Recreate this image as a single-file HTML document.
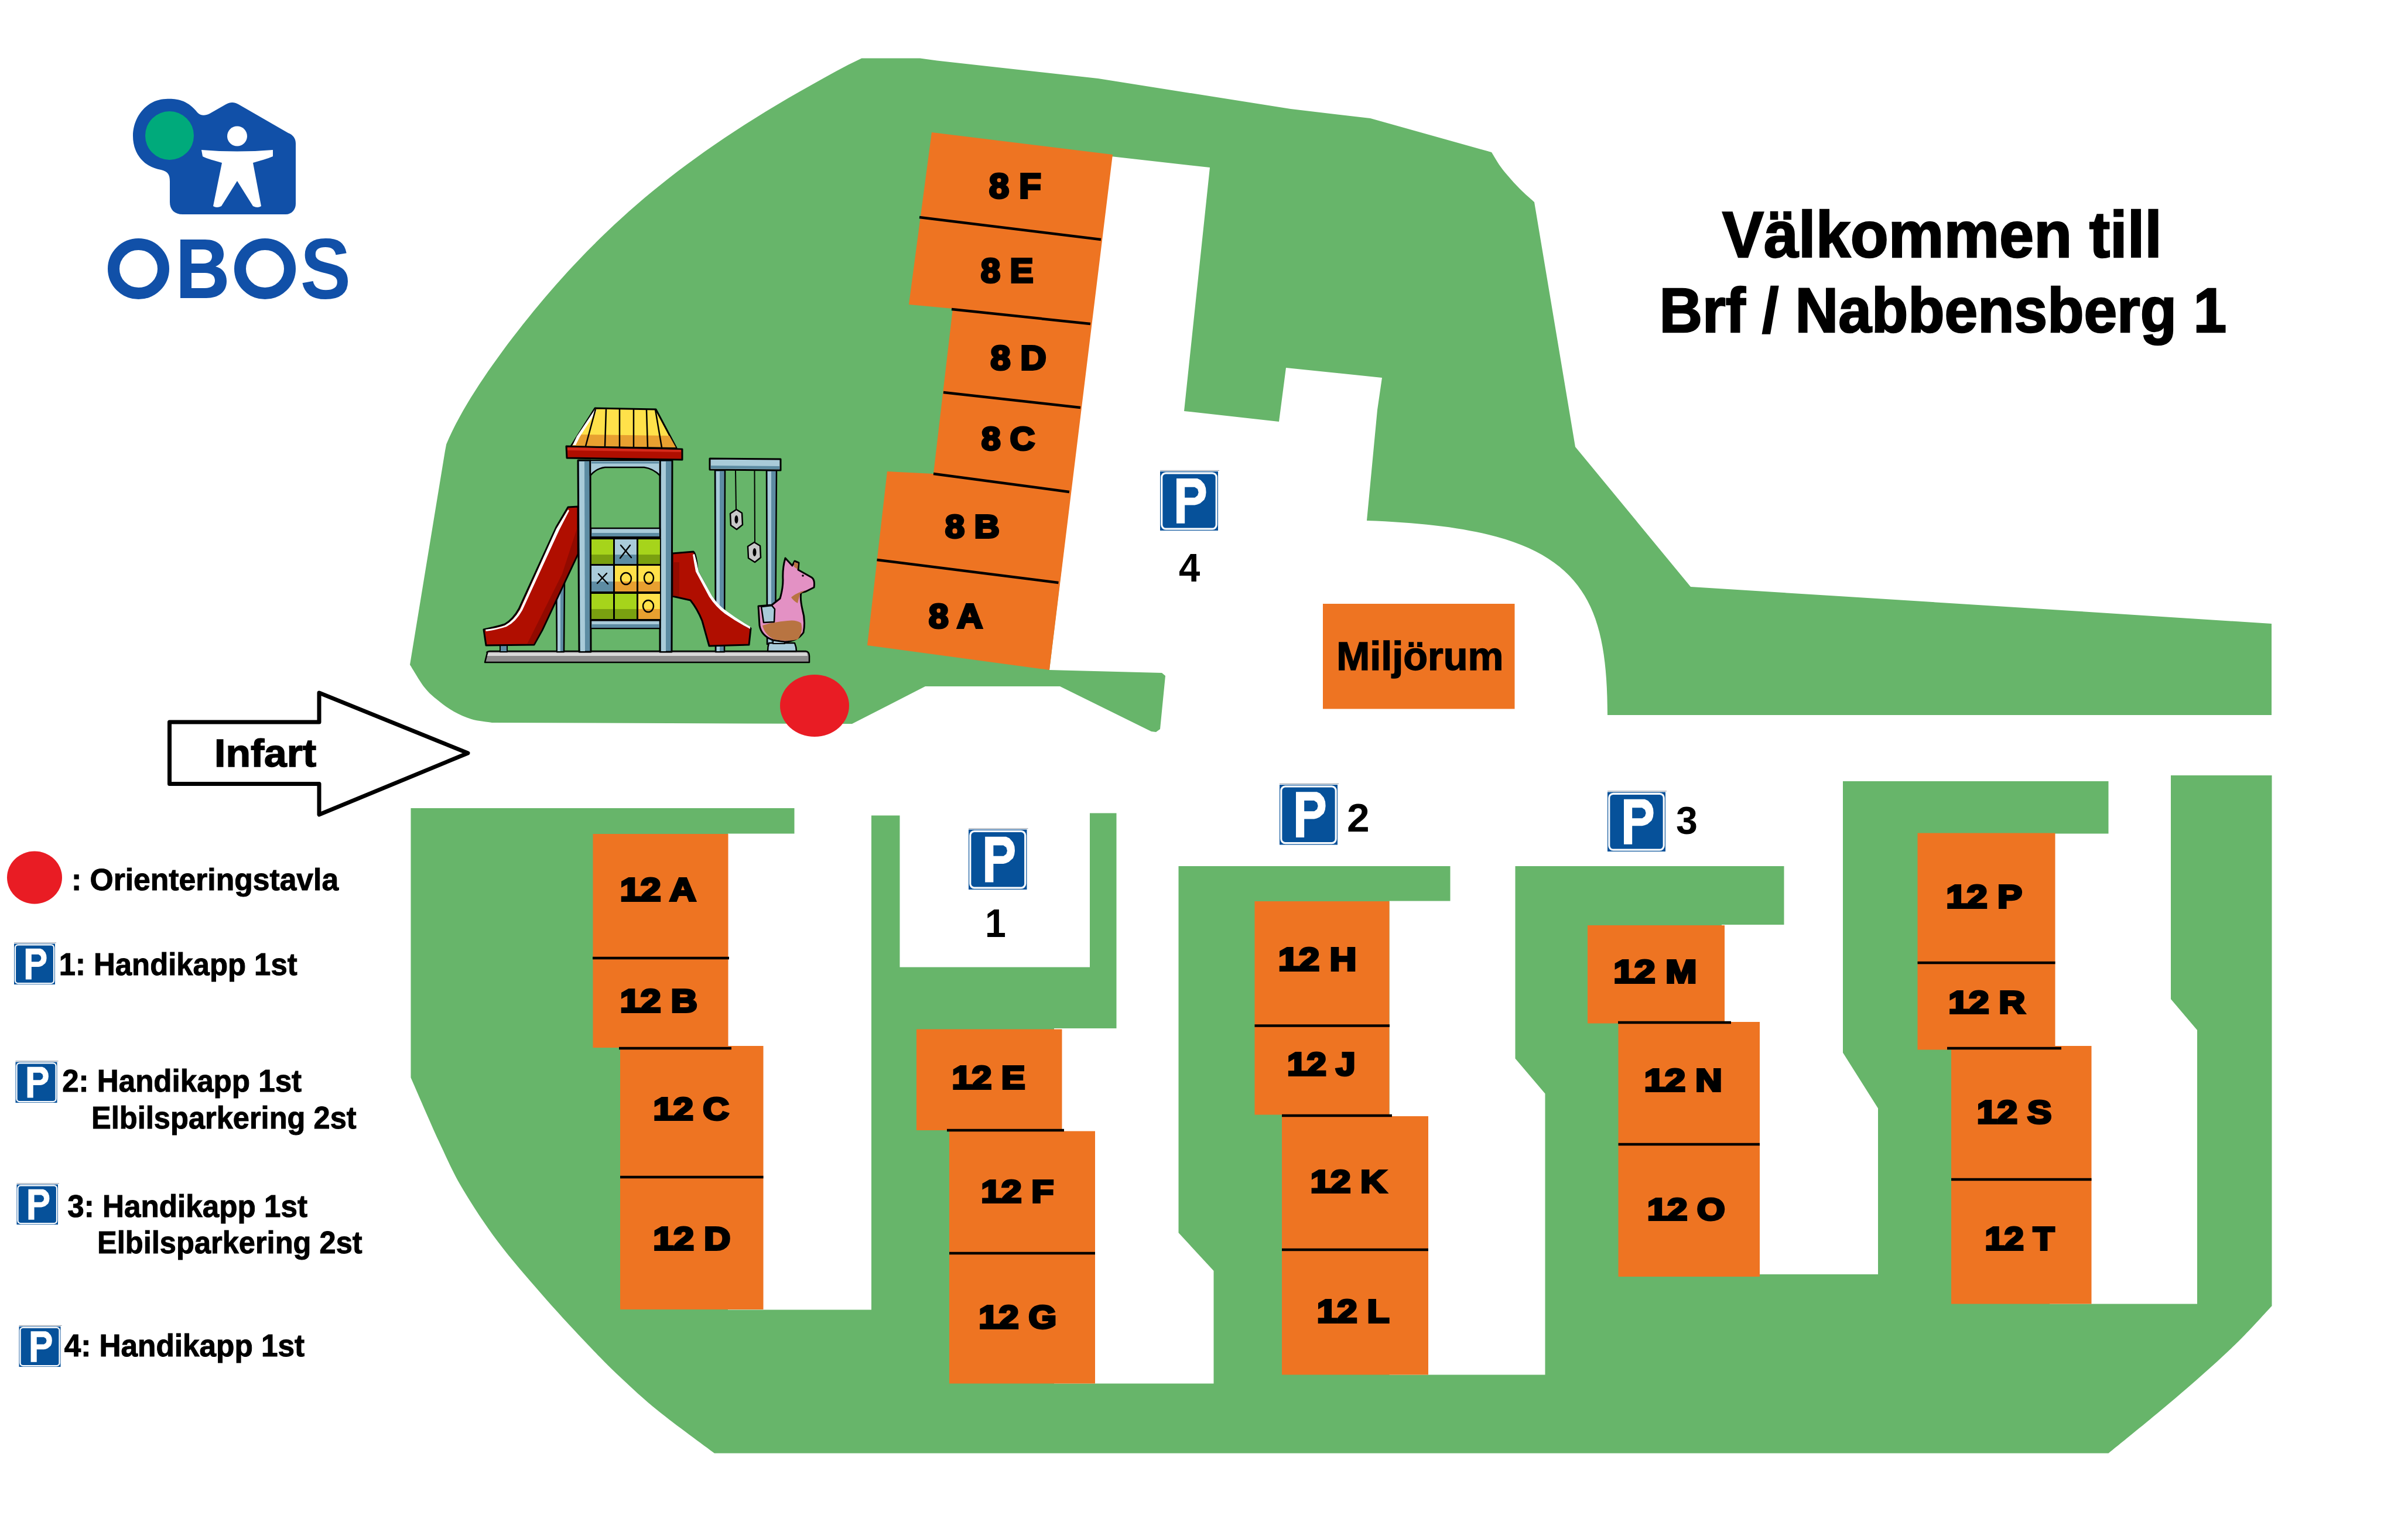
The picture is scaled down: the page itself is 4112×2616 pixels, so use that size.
<!DOCTYPE html>
<html><head><meta charset="utf-8"><style>
html,body{margin:0;padding:0;background:#fff;width:4112px;height:2616px;overflow:hidden;}
svg{display:block;}
text{font-family:"Liberation Sans",sans-serif;font-weight:bold;}
</style></head><body>
<svg width="4112" height="2616" viewBox="0 0 4112 2616">
<rect width="4112" height="2616" fill="#fff"/>
<path d="M760.0,770.0 L762.2,758.6 L767.1,747.3 L772.4,735.9 L778.1,724.5 L784.2,713.2 L790.5,701.8 L797.1,690.4 L804.0,679.1 L811.2,667.7 L818.5,656.3 L826.1,645.0 L833.8,633.6 L841.8,622.2 L849.9,610.9 L858.2,599.5 L866.6,588.1 L875.2,576.8 L884.0,565.4 L892.9,554.0 L902.0,542.7 L911.2,531.3 L920.6,519.9 L930.2,508.6 L939.9,497.2 L949.9,485.8 L960.0,474.5 L970.3,463.1 L980.9,451.7 L991.6,440.4 L1002.6,429.0 L1013.9,417.7 L1025.4,406.3 L1037.1,394.9 L1049.2,383.6 L1061.6,372.2 L1074.2,360.8 L1087.2,349.5 L1100.5,338.1 L1114.1,326.7 L1128.1,315.4 L1142.5,304.0 L1157.3,292.6 L1172.4,281.3 L1187.9,269.9 L1203.8,258.5 L1220.1,247.2 L1236.9,235.8 L1254.0,224.4 L1271.6,213.1 L1289.6,201.7 L1308.0,190.3 L1326.8,179.0 L1346.1,167.6 L1365.8,156.2 L1385.8,144.9 L1406.3,133.5 L1427.1,122.1 L1448.3,110.8 L1471.4,99.4 L1571,99.4 L1600,103.6 L1875,134 L2204,186 L2340,202 L2547,260 C2549.5,264.0 2556.5,276.3 2562.0,284.0 C2567.5,291.7 2573.7,298.8 2580.0,306.0 C2586.3,313.2 2593.3,320.5 2600.0,327.0 C2606.7,333.5 2616.7,342.0 2620.0,345.0 L2690,763 L2887,1002 L3553,1044 L3879,1065 L3879,1221 L2745,1221 L2745,1221 C2744.7,993.7 2684.5,901.2 2334,889 L2352,700 L2360,645 L2196,628 L2184,720 L2022,702 L2066,286 L1897,267 L1792,1144 L1984,1149 L1990,1154 L1981,1245 L1974,1250 L1966,1249 L1810,1172 L1580,1172 L1455,1236 L840,1234 C834.2,1233.0 815.8,1231.2 805.0,1228.0 C794.2,1224.8 784.5,1220.3 775.0,1215.0 C765.5,1209.7 756.3,1202.8 748.0,1196.0 C739.7,1189.2 733.0,1184.2 725.0,1174.0 C717.0,1163.8 704.2,1141.5 700.0,1135.0 Z" fill="#67b56a"/>
<path d="M701.5,1380 L1420,1380 L1420,1392.5 L1600,1392.5 L1600,1388.5 L1950,1388.5 L1950,1479 L3147,1479 L3147,1334 L3700,1334 L3700,1324 L3879.5,1324 L3879.5,2230 C3870.1,2240.0 3843.2,2270.0 3823.0,2290.0 C3802.8,2310.0 3780.5,2330.0 3758.0,2350.0 C3735.5,2370.0 3714.2,2388.1 3688.0,2410.0 C3661.8,2431.9 3615.1,2469.6 3600.5,2481.5 L1220,2481.5 C1204.2,2469.6 1152.1,2431.9 1125.0,2410.0 C1097.9,2388.1 1078.3,2369.7 1057.5,2350.0 C1036.7,2330.3 1022.1,2315.3 1000.0,2292.0 C977.9,2268.7 950.0,2238.7 925.0,2210.0 C900.0,2181.3 872.5,2150.0 850.0,2120.0 C827.5,2090.0 806.7,2058.3 790.0,2030.0 C773.3,2001.7 764.8,1981.7 750.0,1950.0 C735.2,1918.3 709.6,1858.3 701.5,1840.0 Z" fill="#67b56a"/>
<polygon points="1356.5,1375 1488,1375 1488,2236.5 1243,2236.5 1243,1423.5 1356.5,1423.5" fill="#ffffff" />
<polygon points="1536.5,1375 1861,1375 1861,1651.5 1536.5,1651.5" fill="#ffffff" />
<polygon points="1906.5,1375 2012.5,1375 2012.5,2105 2072.5,2170 2072.5,2362.5 1800,2362.5 1800,1756 1906.5,1756" fill="#ffffff" />
<polygon points="2476.5,1470 2587.5,1470 2587.5,1807.5 2638.5,1867.5 2638.5,2347.5 2372.5,2347.5 2372.5,1538.5 2476.5,1538.5" fill="#ffffff" />
<polygon points="3046.5,1470 3147,1470 3147,1797.5 3207,1892.5 3207,2176 2940,2176 2940,1579 3046.5,1579" fill="#ffffff" />
<polygon points="3600.5,1320 3707,1320 3707,1706 3752,1759 3752,2226.5 3500,2226.5 3500,1423.5 3600.5,1423.5" fill="#ffffff" />
<polygon points="1591,226 1900,264 1792,1144 1481,1102 1515,805 1594,809 1627,527 1552,520" fill="#ee7422" />
<rect x="1012.5" y="1424" width="231.0" height="365" fill="#ee7422"/>
<rect x="1059" y="1786" width="244.5" height="450" fill="#ee7422"/>
<rect x="1565" y="1757.5" width="248.5" height="172.5" fill="#ee7422"/>
<rect x="1621" y="1931.5" width="249" height="431.0" fill="#ee7422"/>
<rect x="2142.5" y="1539" width="230.0" height="364.5" fill="#ee7422"/>
<rect x="2189" y="1906" width="250" height="441.5" fill="#ee7422"/>
<rect x="2711" y="1580" width="234" height="167.5" fill="#ee7422"/>
<rect x="2763.5" y="1745" width="241.5" height="435" fill="#ee7422"/>
<rect x="3274.5" y="1422.5" width="235.0" height="370.0" fill="#ee7422"/>
<rect x="3332" y="1786" width="239.5" height="440.5" fill="#ee7422"/>
<rect x="2259" y="1031" width="327.5" height="179.5" fill="#ee7422"/>
<line x1="1570" y1="371" x2="1880" y2="409" stroke="#000" stroke-width="4.5"/>
<line x1="1625" y1="528" x2="1862" y2="553" stroke="#000" stroke-width="4.5"/>
<line x1="1611" y1="670" x2="1845" y2="696" stroke="#000" stroke-width="4.5"/>
<line x1="1594" y1="809" x2="1826" y2="840" stroke="#000" stroke-width="4.5"/>
<line x1="1497.5" y1="956" x2="1807.5" y2="995" stroke="#000" stroke-width="4.5"/>
<line x1="1012" y1="1636" x2="1245" y2="1636" stroke="#000" stroke-width="4.5"/>
<line x1="1057" y1="1790" x2="1249" y2="1790" stroke="#000" stroke-width="4.5"/>
<line x1="1059" y1="2010" x2="1303.5" y2="2010" stroke="#000" stroke-width="4.5"/>
<line x1="1617" y1="1930" x2="1817" y2="1930" stroke="#000" stroke-width="4.5"/>
<line x1="1621" y1="2140" x2="1870" y2="2140" stroke="#000" stroke-width="4.5"/>
<line x1="2142.5" y1="1751.5" x2="2373" y2="1751.5" stroke="#000" stroke-width="4.5"/>
<line x1="2189" y1="1905" x2="2377" y2="1905" stroke="#000" stroke-width="4.5"/>
<line x1="2189" y1="2134" x2="2439" y2="2134" stroke="#000" stroke-width="4.5"/>
<line x1="2763" y1="1746" x2="2956" y2="1746" stroke="#000" stroke-width="4.5"/>
<line x1="2763.5" y1="1954" x2="3005" y2="1954" stroke="#000" stroke-width="4.5"/>
<line x1="3274.5" y1="1644" x2="3509.5" y2="1644" stroke="#000" stroke-width="4.5"/>
<line x1="3325" y1="1790" x2="3520" y2="1790" stroke="#000" stroke-width="4.5"/>
<line x1="3332" y1="2014" x2="3571.5" y2="2014" stroke="#000" stroke-width="4.5"/>
<text x="1689.1" y="338.00" font-size="59.59" textLength="88.7" lengthAdjust="spacingAndGlyphs" fill="#000" stroke="#000" stroke-width="4" stroke-linejoin="miter" >8 F</text>
<text x="1675.1" y="482.00" font-size="56.69" textLength="89.2" lengthAdjust="spacingAndGlyphs" fill="#000" stroke="#000" stroke-width="4" stroke-linejoin="miter" >8 E</text>
<text x="1691.6" y="630.50" font-size="57.41" textLength="95.0" lengthAdjust="spacingAndGlyphs" fill="#000" stroke="#000" stroke-width="4" stroke-linejoin="miter" >8 D</text>
<text x="1676.1" y="768.00" font-size="55.96" textLength="91.0" lengthAdjust="spacingAndGlyphs" fill="#000" stroke="#000" stroke-width="4" stroke-linejoin="miter" >8 C</text>
<text x="1614.1" y="918.00" font-size="55.96" textLength="92.6" lengthAdjust="spacingAndGlyphs" fill="#000" stroke="#000" stroke-width="4" stroke-linejoin="miter" >8 B</text>
<text x="1586.1" y="1072.00" font-size="56.69" textLength="91.9" lengthAdjust="spacingAndGlyphs" fill="#000" stroke="#000" stroke-width="4" stroke-linejoin="miter" >8 A</text>
<text x="1059.1" y="1538.00" font-size="55.96" textLength="129.5" lengthAdjust="spacingAndGlyphs" fill="#000" stroke="#000" stroke-width="4" stroke-linejoin="miter" >12 A</text>
<text x="1059.1" y="1728.00" font-size="55.96" textLength="131.8" lengthAdjust="spacingAndGlyphs" fill="#000" stroke="#000" stroke-width="4" stroke-linejoin="miter" >12 B</text>
<text x="1115.7" y="1911.50" font-size="53.78" textLength="129.0" lengthAdjust="spacingAndGlyphs" fill="#000" stroke="#000" stroke-width="4" stroke-linejoin="miter" >12 C</text>
<text x="1115.6" y="2134.00" font-size="55.23" textLength="131.5" lengthAdjust="spacingAndGlyphs" fill="#000" stroke="#000" stroke-width="4" stroke-linejoin="miter" >12 D</text>
<text x="1625.7" y="1859.00" font-size="55.23" textLength="124.7" lengthAdjust="spacingAndGlyphs" fill="#000" stroke="#000" stroke-width="4" stroke-linejoin="miter" >12 E</text>
<text x="1675.6" y="2053.00" font-size="53.78" textLength="123.7" lengthAdjust="spacingAndGlyphs" fill="#000" stroke="#000" stroke-width="4" stroke-linejoin="miter" >12 F</text>
<text x="1671.6" y="2268.00" font-size="55.96" textLength="132.6" lengthAdjust="spacingAndGlyphs" fill="#000" stroke="#000" stroke-width="4" stroke-linejoin="miter" >12 G</text>
<text x="2183.0" y="1656.50" font-size="55.96" textLength="133.2" lengthAdjust="spacingAndGlyphs" fill="#000" stroke="#000" stroke-width="4" stroke-linejoin="miter" >12 H</text>
<text x="2198.2" y="1835.50" font-size="55.96" textLength="116.4" lengthAdjust="spacingAndGlyphs" fill="#000" stroke="#000" stroke-width="4" stroke-linejoin="miter" >12 J</text>
<text x="2238.1" y="2035.50" font-size="54.51" textLength="129.4" lengthAdjust="spacingAndGlyphs" fill="#000" stroke="#000" stroke-width="4" stroke-linejoin="miter" >12 K</text>
<text x="2249.1" y="2258.00" font-size="55.96" textLength="123.3" lengthAdjust="spacingAndGlyphs" fill="#000" stroke="#000" stroke-width="4" stroke-linejoin="miter" >12 L</text>
<text x="2755.5" y="1678.00" font-size="55.96" textLength="141.8" lengthAdjust="spacingAndGlyphs" fill="#000" stroke="#000" stroke-width="4" stroke-linejoin="miter" >12 M</text>
<text x="2808.0" y="1863.00" font-size="53.78" textLength="132.7" lengthAdjust="spacingAndGlyphs" fill="#000" stroke="#000" stroke-width="4" stroke-linejoin="miter" >12 N</text>
<text x="2813.2" y="2083.00" font-size="52.33" textLength="132.4" lengthAdjust="spacingAndGlyphs" fill="#000" stroke="#000" stroke-width="4" stroke-linejoin="miter" >12 O</text>
<text x="3323.5" y="1549.50" font-size="55.96" textLength="129.6" lengthAdjust="spacingAndGlyphs" fill="#000" stroke="#000" stroke-width="4" stroke-linejoin="miter" >12 P</text>
<text x="3327.6" y="1729.50" font-size="54.51" textLength="130.7" lengthAdjust="spacingAndGlyphs" fill="#000" stroke="#000" stroke-width="4" stroke-linejoin="miter" >12 R</text>
<text x="3376.1" y="1918.00" font-size="55.96" textLength="127.3" lengthAdjust="spacingAndGlyphs" fill="#000" stroke="#000" stroke-width="4" stroke-linejoin="miter" >12 S</text>
<text x="3389.8" y="2134.00" font-size="55.96" textLength="118.4" lengthAdjust="spacingAndGlyphs" fill="#000" stroke="#000" stroke-width="4" stroke-linejoin="miter" >12 T</text>
<text x="2282.2" y="1144.25" font-size="69.04" textLength="285.3" lengthAdjust="spacingAndGlyphs" fill="#000" stroke="#000" stroke-width="1.5" stroke-linejoin="miter" >Miljörum</text>
<g transform="translate(1981,805) scale(0.9900,1.0100)"><rect x="0" y="0" width="100" height="100" fill="#06519a"/><rect x="2.8" y="2.8" width="94.4" height="94.4" rx="7" fill="none" stroke="#fff" stroke-width="3.2"/><path d="M28.3 12 H64.3 L70 14.5 L76.2 21.3 L78.8 28 L79.4 35.3 L78.5 42 L76.2 47.7 L69.1 53.9 L64 56 L59.6 57 H42.6 V87.9 H28.3 Z M42.6 26.4 H59.6 L64.7 29.8 L66.3 35.3 L64.7 40.7 L60 44.2 H42.6 Z" fill="#fff" fill-rule="evenodd"/></g>
<line x1="1981" y1="803.4" x2="2082" y2="803.4" stroke="#8a93a0" stroke-width="1"/>
<g transform="translate(1654,1416.5) scale(0.9950,1.0250)"><rect x="0" y="0" width="100" height="100" fill="#06519a"/><rect x="2.8" y="2.8" width="94.4" height="94.4" rx="7" fill="none" stroke="#fff" stroke-width="3.2"/><path d="M28.3 12 H64.3 L70 14.5 L76.2 21.3 L78.8 28 L79.4 35.3 L78.5 42 L76.2 47.7 L69.1 53.9 L64 56 L59.6 57 H42.6 V87.9 H28.3 Z M42.6 26.4 H59.6 L64.7 29.8 L66.3 35.3 L64.7 40.7 L60 44.2 H42.6 Z" fill="#fff" fill-rule="evenodd"/></g>
<line x1="1654" y1="1414.9" x2="1755.5" y2="1414.9" stroke="#8a93a0" stroke-width="1"/>
<g transform="translate(2185,1340) scale(0.9900,1.0250)"><rect x="0" y="0" width="100" height="100" fill="#06519a"/><rect x="2.8" y="2.8" width="94.4" height="94.4" rx="7" fill="none" stroke="#fff" stroke-width="3.2"/><path d="M28.3 12 H64.3 L70 14.5 L76.2 21.3 L78.8 28 L79.4 35.3 L78.5 42 L76.2 47.7 L69.1 53.9 L64 56 L59.6 57 H42.6 V87.9 H28.3 Z M42.6 26.4 H59.6 L64.7 29.8 L66.3 35.3 L64.7 40.7 L60 44.2 H42.6 Z" fill="#fff" fill-rule="evenodd"/></g>
<line x1="2185" y1="1338.4" x2="2286" y2="1338.4" stroke="#8a93a0" stroke-width="1"/>
<g transform="translate(2745,1352.5) scale(0.9900,1.0150)"><rect x="0" y="0" width="100" height="100" fill="#06519a"/><rect x="2.8" y="2.8" width="94.4" height="94.4" rx="7" fill="none" stroke="#fff" stroke-width="3.2"/><path d="M28.3 12 H64.3 L70 14.5 L76.2 21.3 L78.8 28 L79.4 35.3 L78.5 42 L76.2 47.7 L69.1 53.9 L64 56 L59.6 57 H42.6 V87.9 H28.3 Z M42.6 26.4 H59.6 L64.7 29.8 L66.3 35.3 L64.7 40.7 L60 44.2 H42.6 Z" fill="#fff" fill-rule="evenodd"/></g>
<line x1="2745" y1="1350.9" x2="2846" y2="1350.9" stroke="#8a93a0" stroke-width="1"/>
<g transform="translate(24,1611.5) scale(0.7000,0.6950)"><rect x="0" y="0" width="100" height="100" fill="#06519a"/><rect x="2.8" y="2.8" width="94.4" height="94.4" rx="7" fill="none" stroke="#fff" stroke-width="3.2"/><path d="M28.3 12 H64.3 L70 14.5 L76.2 21.3 L78.8 28 L79.4 35.3 L78.5 42 L76.2 47.7 L69.1 53.9 L64 56 L59.6 57 H42.6 V87.9 H28.3 Z M42.6 26.4 H59.6 L64.7 29.8 L66.3 35.3 L64.7 40.7 L60 44.2 H42.6 Z" fill="#fff" fill-rule="evenodd"/></g>
<line x1="24" y1="1609.9" x2="96" y2="1609.9" stroke="#8a93a0" stroke-width="1"/>
<g transform="translate(26.5,1813.5) scale(0.7100,0.6950)"><rect x="0" y="0" width="100" height="100" fill="#06519a"/><rect x="2.8" y="2.8" width="94.4" height="94.4" rx="7" fill="none" stroke="#fff" stroke-width="3.2"/><path d="M28.3 12 H64.3 L70 14.5 L76.2 21.3 L78.8 28 L79.4 35.3 L78.5 42 L76.2 47.7 L69.1 53.9 L64 56 L59.6 57 H42.6 V87.9 H28.3 Z M42.6 26.4 H59.6 L64.7 29.8 L66.3 35.3 L64.7 40.7 L60 44.2 H42.6 Z" fill="#fff" fill-rule="evenodd"/></g>
<line x1="26.5" y1="1811.9" x2="99.5" y2="1811.9" stroke="#8a93a0" stroke-width="1"/>
<g transform="translate(28.5,2022.5) scale(0.7050,0.6850)"><rect x="0" y="0" width="100" height="100" fill="#06519a"/><rect x="2.8" y="2.8" width="94.4" height="94.4" rx="7" fill="none" stroke="#fff" stroke-width="3.2"/><path d="M28.3 12 H64.3 L70 14.5 L76.2 21.3 L78.8 28 L79.4 35.3 L78.5 42 L76.2 47.7 L69.1 53.9 L64 56 L59.6 57 H42.6 V87.9 H28.3 Z M42.6 26.4 H59.6 L64.7 29.8 L66.3 35.3 L64.7 40.7 L60 44.2 H42.6 Z" fill="#fff" fill-rule="evenodd"/></g>
<line x1="28.5" y1="2020.9" x2="101" y2="2020.9" stroke="#8a93a0" stroke-width="1"/>
<g transform="translate(32.5,2265) scale(0.7100,0.6900)"><rect x="0" y="0" width="100" height="100" fill="#06519a"/><rect x="2.8" y="2.8" width="94.4" height="94.4" rx="7" fill="none" stroke="#fff" stroke-width="3.2"/><path d="M28.3 12 H64.3 L70 14.5 L76.2 21.3 L78.8 28 L79.4 35.3 L78.5 42 L76.2 47.7 L69.1 53.9 L64 56 L59.6 57 H42.6 V87.9 H28.3 Z M42.6 26.4 H59.6 L64.7 29.8 L66.3 35.3 L64.7 40.7 L60 44.2 H42.6 Z" fill="#fff" fill-rule="evenodd"/></g>
<line x1="32.5" y1="2263.4" x2="105.5" y2="2263.4" stroke="#8a93a0" stroke-width="1"/>
<text x="2013.0" y="992.50" font-size="69.04" textLength="36.3" lengthAdjust="spacingAndGlyphs" fill="#000" >4</text>
<text x="1681.9" y="1600.00" font-size="69.04" textLength="35.9" lengthAdjust="spacingAndGlyphs" fill="#000" >1</text>
<text x="2300.1" y="1420.00" font-size="69.04" textLength="38.7" lengthAdjust="spacingAndGlyphs" fill="#000" >2</text>
<text x="2862.0" y="1423.50" font-size="66.86" textLength="36.9" lengthAdjust="spacingAndGlyphs" fill="#000" >3</text>
<ellipse cx="59" cy="1498.5" rx="47" ry="45" fill="#e91c24"/>
<text x="122.0" y="1520.00" font-size="52.33" textLength="456.1" lengthAdjust="spacingAndGlyphs" fill="#000" stroke="#000" stroke-width="1" stroke-linejoin="miter" >: Orienteringstavla</text>
<text x="100.8" y="1665.20" font-size="54.22" textLength="406.8" lengthAdjust="spacingAndGlyphs" fill="#000" stroke="#000" stroke-width="1" stroke-linejoin="miter" >1: Handikapp 1st</text>
<text x="106.2" y="1864.00" font-size="54.51" textLength="408.9" lengthAdjust="spacingAndGlyphs" fill="#000" stroke="#000" stroke-width="1" stroke-linejoin="miter" >2: Handikapp 1st</text>
<text x="156.1" y="1926.50" font-size="54.51" textLength="452.5" lengthAdjust="spacingAndGlyphs" fill="#000" stroke="#000" stroke-width="1" stroke-linejoin="miter" >Elbilsparkering 2st</text>
<text x="115.3" y="2077.50" font-size="53.78" textLength="409.8" lengthAdjust="spacingAndGlyphs" fill="#000" stroke="#000" stroke-width="1" stroke-linejoin="miter" >3: Handikapp 1st</text>
<text x="166.1" y="2140.00" font-size="54.51" textLength="452.5" lengthAdjust="spacingAndGlyphs" fill="#000" stroke="#000" stroke-width="1" stroke-linejoin="miter" >Elbilsparkering 2st</text>
<text x="109.7" y="2316.00" font-size="53.78" textLength="410.4" lengthAdjust="spacingAndGlyphs" fill="#000" stroke="#000" stroke-width="1" stroke-linejoin="miter" >4: Handikapp 1st</text>
<text x="2941.0" y="438.75" font-size="111.19" textLength="750.8" lengthAdjust="spacingAndGlyphs" fill="#000" stroke="#000" stroke-width="2.5" stroke-linejoin="miter" >Välkommen till</text>
<text x="2833.4" y="566.75" font-size="108.29" textLength="968.7" lengthAdjust="spacingAndGlyphs" fill="#000" stroke="#000" stroke-width="2.5" stroke-linejoin="miter" >Brf / Nabbensberg 1</text>
<path d="M289.5 1233 L545 1233 L545 1183 L799 1286 L545 1391 L545 1338.5 L289.5 1338.5 Z" fill="#fff" stroke="#000" stroke-width="7" stroke-linejoin="round"/>
<text x="366.1" y="1309.25" font-size="66.86" textLength="174.0" lengthAdjust="spacingAndGlyphs" fill="#000" stroke="#000" stroke-width="1.5" stroke-linejoin="miter" >Infart</text>
<ellipse cx="1391" cy="1205" rx="59" ry="53" fill="#e91c24"/>
<path d="M337 192 C 320 170, 300 168, 283 169 C 250 170, 227 200, 227 232 C 227 262, 245 285, 275 290 C 287 293, 290 298, 290 310 L 290 345 C 290 358, 298 366, 312 366 L 488 366 C 498 366, 505 358, 505 348 L 505 245 C 505 236, 500 230, 492 227 L 407 178 C 400 174, 393 174, 386 178 L 358 194 C 350 198, 343 198, 337 192 Z" fill="#1150a8"/>
<circle cx="289.5" cy="231.5" r="41.5" fill="#00aa7b"/>
<circle cx="405" cy="232.5" r="17" fill="#fff"/>
<path d="M344 256 Q 405 261 466 256 L 466 267 Q 460 270 432 278 L 446 352 Q 440 356 432 352 L 405 309 L 378 352 Q 370 356 364 352 L 379 278 Q 350 270 346 267 Z" fill="#fff"/>
<ellipse cx="236.5" cy="459" rx="42.5" ry="42" fill="none" stroke="#1150a8" stroke-width="20"/>
<path d="M308 409 H 350 C 372 409, 382 420, 382 434 C 382 445, 376 452, 368 455 C 380 458, 387 467, 387 480 C 387 498, 374 509, 352 509 H 308 Z M327 426 V 450 H 347 C 357 450, 362 445, 362 438 C 362 431, 357 426, 347 426 Z M327 466 V 492 H 350 C 361 492, 367 487, 367 479 C 367 471, 361 466, 350 466 Z" fill="#1150a8" fill-rule="evenodd"/>
<ellipse cx="452.5" cy="459" rx="42.5" ry="42" fill="none" stroke="#1150a8" stroke-width="20"/>
<text x="512.8" y="509.6" font-size="146.9" textLength="86.3" lengthAdjust="spacingAndGlyphs" fill="#1150a8">S</text>
<g id="playground" stroke-linejoin="round">
<!-- base platform -->
<path d="M832 1115 Q 830 1113 836 1112 L 1376 1112 Q 1382 1113 1382 1120 L 1382 1131 L 828 1131 Z" fill="#8c8c8c" stroke="#000" stroke-width="2.5"/>
<path d="M834 1114.5 L 1378 1114.5 L 1379 1120 L 832 1120 Z" fill="#d9d9d9"/>
<!-- left slide foot & support -->
<rect x="854" y="1100" width="12" height="13" fill="#5d8ca3" stroke="#000" stroke-width="2"/>
<path d="M950 992 L 964 992 L 963 1113 L 951 1113 Z" fill="#5d8ca3" stroke="#000" stroke-width="2.5"/>
<path d="M952 994 L 957 994 L 957 1112 L 952 1112 Z" fill="#a9cbd9"/>
<!-- right slide foot -->
<rect x="1224" y="1100" width="12" height="13" fill="#5d8ca3" stroke="#000" stroke-width="2"/>
<!-- left slide -->
<path d="M970 866 L 987 865 L 987 946 L 926 1076 L 912 1101 L 830 1102 L 826 1075 Q 850 1070 862 1066 Q 876 1058 886 1040 L 950 900 Z" fill="#b00e00" stroke="#000" stroke-width="3"/>
<path d="M970 870 L 950 903 L 888 1041 Q 877 1060 862 1068 Q 848 1073 829 1075 L 830 1078 Q 850 1075 865 1070 Q 881 1062 892 1042 L 955 905 L 972 872 Z" fill="#fff"/>
<path d="M986 900 L 986 946 L 925 1076 L 912 1100 L 900 1100 L 960 980 Z" fill="#7a0800" opacity="0.55"/>
<!-- swing frame -->
<path d="M1221 803 L 1238 803 L 1237 1113 L 1222 1113 Z" fill="#5d8ca3" stroke="#000" stroke-width="2.5"/>
<path d="M1223 805 L 1229 805 L 1229 1112 L 1224 1112 Z" fill="#a9cbd9"/>
<path d="M1309 803 L 1326 803 L 1324 1100 L 1310 1100 Z" fill="#5d8ca3" stroke="#000" stroke-width="2.5"/>
<path d="M1311 805 L 1317 805 L 1317 1100 L 1312 1100 Z" fill="#a9cbd9"/>
<path d="M1212 783 L 1333 784 L 1333 803 L 1212 802 Z" fill="#a9cbd9" stroke="#000" stroke-width="3"/>
<path d="M1214 795 L 1331 796 L 1331 801 L 1214 800 Z" fill="#5d8ca3"/>
<g stroke="#000" stroke-width="2">
<line x1="1256" y1="803" x2="1257" y2="871"/>
<line x1="1288.5" y1="803" x2="1289" y2="927"/>
</g>
<path d="M1257.5 870 L 1267 876 L 1268 896 L 1258 904 L 1248 897 L 1247 877 Z" fill="#c8c8c8" stroke="#000" stroke-width="2.5"/>
<ellipse cx="1257.5" cy="887" rx="3" ry="7" fill="#000"/>
<path d="M1288 926 L 1298 932 L 1299 952 L 1289 960 L 1278 953 L 1277 933 Z" fill="#c8c8c8" stroke="#000" stroke-width="2.5"/>
<ellipse cx="1288.5" cy="943" rx="3" ry="7" fill="#000"/>
<!-- right slide -->
<path d="M1148 945 L 1184 942 Q 1189 945 1191 975 L 1214 1018 Q 1225 1035 1239 1045 Q 1258 1060 1282 1073 L 1279 1101 L 1211 1103 L 1199 1060 Q 1191 1040 1179 1025 L 1148 1018 Z" fill="#b00e00" stroke="#000" stroke-width="3"/>
<path d="M1186 946 Q 1190 960 1193 976 L 1216 1018 Q 1227 1034 1240 1043 Q 1260 1058 1281 1070 L 1281 1074 Q 1258 1062 1238 1048 Q 1222 1036 1211 1019 L 1188 976 Q 1185 960 1183 947 Z" fill="#fff"/>
<path d="M1148 960 L 1160 960 L 1160 1018 L 1148 1018 Z" fill="#7a0800" opacity="0.5"/>
<!-- tower posts -->
<path d="M987 786 L 1008 786 L 1009 1113 L 989 1113 Z" fill="#5d8ca3" stroke="#000" stroke-width="3"/>
<path d="M989 788 L 998 788 L 999 1112 L 991 1112 Z" fill="#a9cbd9"/>
<path d="M1127 786 L 1148 786 L 1147 1113 L 1127 1113 Z" fill="#5d8ca3" stroke="#000" stroke-width="3"/>
<path d="M1129 788 L 1137 788 L 1137 1112 L 1129 1112 Z" fill="#a9cbd9"/>
<!-- top crossbar with arch -->
<path d="M1008 786 L 1127 786 L 1127 812 Q 1115 800 1100 798 L 1033 798 Q 1018 800 1008 812 Z" fill="#a9cbd9" stroke="#000" stroke-width="2.5"/>
<path d="M1010 790 L 1125 790" stroke="#5d8ca3" stroke-width="3"/>
<!-- grid crossbars -->
<rect x="1009" y="902" width="118" height="15" fill="#a9cbd9" stroke="#000" stroke-width="2.5"/>
<rect x="1010" y="910" width="116" height="6" fill="#5d8ca3"/>
<rect x="1009" y="1059" width="118" height="14" fill="#a9cbd9" stroke="#000" stroke-width="2.5"/>
<rect x="1010" y="1066" width="116" height="6" fill="#5d8ca3"/>
<!-- grid cells -->
<g stroke="#000" stroke-width="3">
<rect x="1009" y="919" width="118" height="140" fill="#000"/>
</g>
<!-- row1 -->
<rect x="1010" y="921" width="37" height="42" fill="#a6d41b"/><rect x="1010" y="947" width="37" height="16" fill="#7aa010"/>
<rect x="1050" y="921" width="37" height="42" fill="#a9cbd9"/><rect x="1050" y="947" width="37" height="16" fill="#5d8ca3"/>
<rect x="1090" y="921" width="37" height="42" fill="#a6d41b"/><rect x="1090" y="947" width="37" height="16" fill="#7aa010"/>
<!-- row2 -->
<rect x="1010" y="966" width="37" height="44" fill="#a9cbd9"/><rect x="1010" y="993" width="37" height="17" fill="#5d8ca3"/>
<rect x="1050" y="966" width="37" height="44" fill="#ffe14a"/><rect x="1050" y="993" width="37" height="17" fill="#e8a030"/>
<rect x="1090" y="966" width="37" height="44" fill="#ffe14a"/><rect x="1090" y="993" width="37" height="17" fill="#e8a030"/>
<!-- row3 -->
<rect x="1010" y="1014" width="37" height="43" fill="#a6d41b"/><rect x="1010" y="1040" width="37" height="17" fill="#7aa010"/>
<rect x="1050" y="1014" width="37" height="43" fill="#a6d41b"/><rect x="1050" y="1040" width="37" height="17" fill="#7aa010"/>
<rect x="1090" y="1014" width="37" height="43" fill="#ffe14a"/><rect x="1090" y="1040" width="37" height="17" fill="#e8a030"/>
<!-- X and O -->
<g stroke="#000" stroke-width="2.5" fill="none" stroke-linecap="round">
<path d="M1060 931 L 1078 952 M1076 931 L 1059 953"/>
<path d="M1022 980 L 1038 997 M1036 979 L 1020 996"/>
<ellipse cx="1069" cy="988" rx="9" ry="10"/>
<ellipse cx="1108" cy="987" rx="8" ry="10"/>
<ellipse cx="1107" cy="1035" rx="9" ry="10"/>
</g>
<!-- red bar -->
<path d="M967 762 L 1165 767 L 1165 785 L 968 782 Z" fill="#b00e00" stroke="#000" stroke-width="3"/>
<path d="M969 764 L 1163 768 L 1163 772 L 969 769 Z" fill="#d42a1a"/>
<!-- roof -->
<path d="M1016 697 L 1120 699 L 1155 765 L 975 762 Z" fill="#ffe14a" stroke="#000" stroke-width="3"/>
<path d="M990 742 L 1143 744 L 1154 764 L 977 761 Z" fill="#e8a030"/>
<path d="M1016 699 L 985 745 L 978 760 L 983 760 L 990 746 L 1019 701 Z" fill="#fff"/>
<g stroke="#000" stroke-width="2.5">
<line x1="1035" y1="699" x2="1033" y2="762"/>
<line x1="1058" y1="699" x2="1058" y2="763"/>
<line x1="1082" y1="699" x2="1082" y2="763"/>
<line x1="1104" y1="699" x2="1106" y2="764"/>
<line x1="1017" y1="699" x2="1000" y2="762"/>
<line x1="1119" y1="699" x2="1130" y2="764"/>
</g>
<!-- horse -->
<path d="M1313 1098 L 1357 1098 Q 1360 1105 1360 1112 L 1311 1112 Q 1311 1104 1313 1098 Z" fill="#a9cbd9" stroke="#000" stroke-width="2.5"/>
<rect x="1320" y="1090" width="20" height="9" fill="#a9cbd9" stroke="#000" stroke-width="2"/>
<path d="M1341 953 L 1353 966 L 1357 958 L 1364 961 L 1363 973 L 1386 986 Q 1392 990 1390 1003 L 1376 1010 L 1368 1012 Q 1366 1022 1370 1040 Q 1376 1060 1372 1080 Q 1362 1095 1340 1096 L 1320 1093 Q 1300 1086 1297 1068 L 1295 1035 L 1318 1033 L 1332 1022 Q 1337 1005 1337 990 Q 1336 970 1341 953 Z" fill="#e391c4" stroke="#000" stroke-width="3"/>
<path d="M1302 1068 Q 1320 1062 1345 1060 Q 1360 1058 1368 1064 Q 1372 1080 1362 1092 Q 1345 1096 1322 1092 Q 1306 1084 1302 1068 Z" fill="#b87441"/>
<path d="M1351 1020 Q 1360 1012 1376 1008 L 1366 1014 Q 1364 1022 1362 1030 Q 1355 1026 1351 1020 Z" fill="#b87441"/>
<path d="M1356 960 L 1363 962 L 1362 972 L 1356 968 Z" fill="#b87441"/>
<path d="M1300 1036 L 1318 1034 L 1323 1040 L 1322 1062 L 1304 1063 Z" fill="#a9cbd9" stroke="#000" stroke-width="2.5"/>
<circle cx="1371" cy="983" r="1.8" fill="#000"/>
</g>

</svg></body></html>
